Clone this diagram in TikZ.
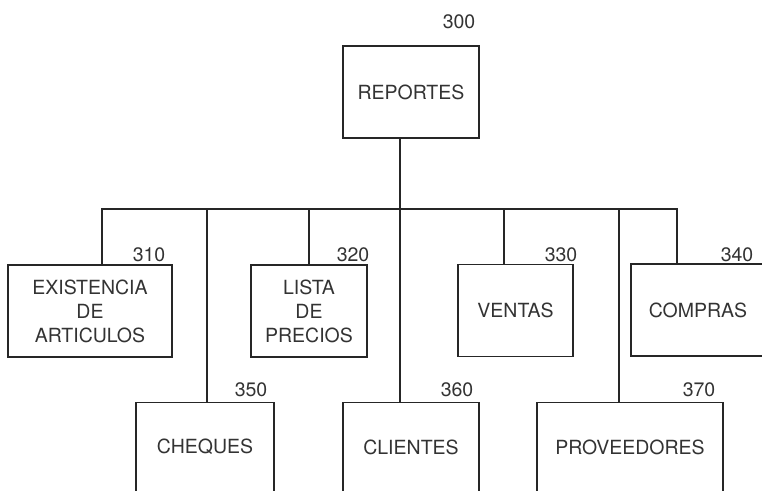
\documentclass[tikz,border=0pt]{standalone}
\usepackage{fontspec}
\setmainfont{TeX Gyre Heros}
\begin{document}
\begin{tikzpicture}[x=1pt,y=-1pt,
  line width=1.4pt,
  lin/.style={draw=black!85},
  box/.style={draw=black!85, rectangle, inner sep=0pt, align=center,
    text=black!80, font={\fontsize{19.5}{24}\selectfont}},
  num/.style={inner sep=0pt, anchor=east, text=black!80,
    font={\fontsize{19.5}{24}\selectfont}}]
\useasboundingbox (0,0) rectangle (762,490);
\fill[white] (0,0) rectangle (762,490);
\begin{scope}
\clip (0,0) rectangle (762,490);

% boxes
\node[box, minimum width=136pt, minimum height=92pt] (rep) at (411,92) {REPORTES};
\node[box, minimum width=164pt, minimum height=92pt] (e310) at (90,311) {EXISTENCIA\\DE\\ARTICULOS};
\node[box, minimum width=116pt, minimum height=92pt] (e320) at (309,311) {LISTA\\DE\\PRECIOS};
\node[box, minimum width=115pt, minimum height=92pt] (e330) at (515.5,310.5) {VENTAS};
\node[box, minimum width=134pt, minimum height=92pt] (e340) at (698,310) {COMPRAS};
\node[box, minimum width=138pt, minimum height=89.5pt] (e350) at (205,447) {CHEQUES};
\node[box, minimum width=136pt, minimum height=89.5pt] (e360) at (411,447) {CLIENTES};
\node[box, minimum width=186pt, minimum height=89.5pt] (e370) at (630,447) {PROVEEDORES};

% numbers
\node[num] (n300) at (476,22) {300};
\node[num] (n310) at (166,255) {310};
\node[num] (n320) at (370,255) {320};
\node[num] (n330) at (578,255) {330};
\node[num] (n340) at (754,255) {340};
\node[num] (n350) at (268,390) {350};
\node[num] (n360) at (474,390) {360};
\node[num] (n370) at (716,390) {370};

% connectors
\coordinate (bus) at (400,209);
\draw[lin] ([xshift=-11pt]rep.south) -- ([xshift=-11pt]e360.north);
\draw[lin] ([xshift=12pt]e310.north) |- (bus) -| ([xshift=-21pt]e340.north);
\draw[lin] (e320.north) -- (e320.north |- bus);
\draw[lin] ([xshift=-11.5pt]e330.north) -- ([xshift=-11.5pt]e330.north |- bus);
\draw[lin] ([xshift=2pt]e350.north) -- ([xshift=2pt]e350.north |- bus);
\draw[lin] ([xshift=-11pt]e370.north) -- ([xshift=-11pt]e370.north |- bus);
\end{scope}
\end{tikzpicture}
\end{document}
